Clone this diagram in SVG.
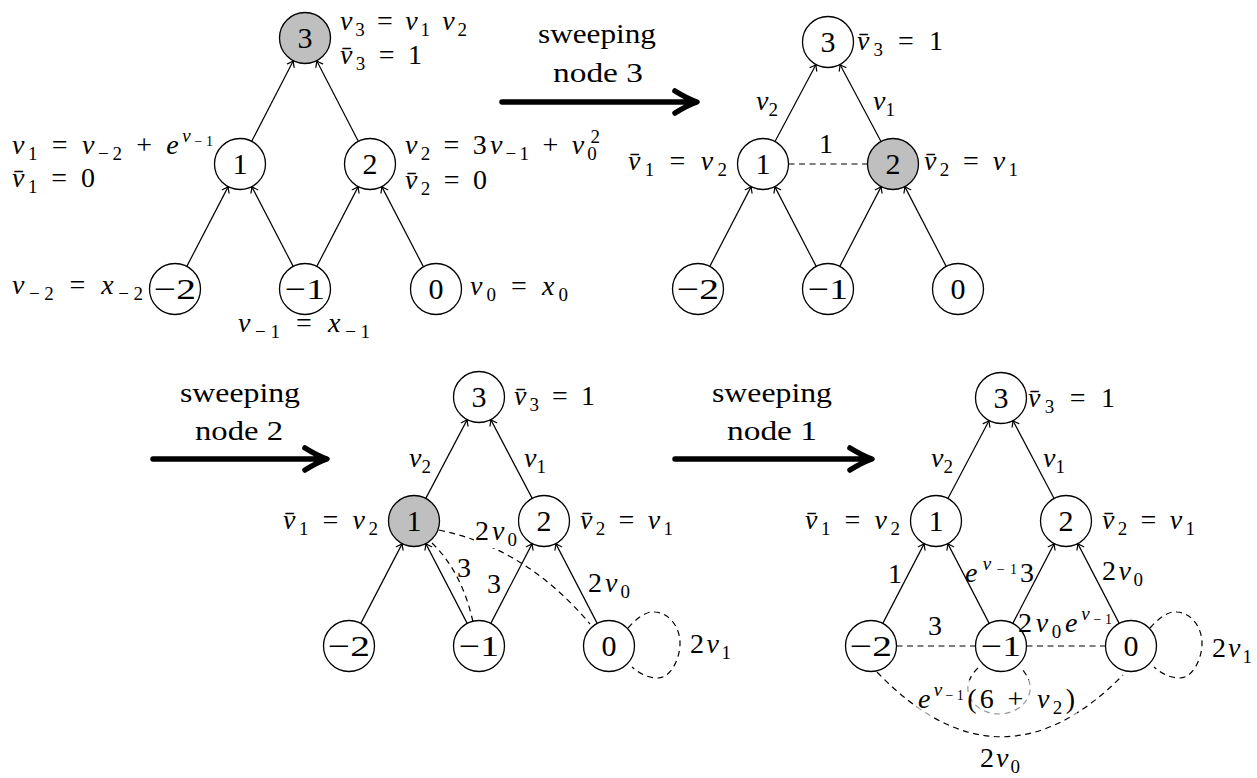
<svg xmlns="http://www.w3.org/2000/svg" width="1257" height="778" viewBox="0 0 1257 778" font-family="Liberation Serif, DejaVu Serif, serif">
<style>
text{font-family:"Liberation Serif","DejaVu Serif",serif}
.t{font-size:28px;fill:#000}
.i{font-style:italic}
.s{font-size:19px}
.ss{font-size:14px}
.n{font-size:30px;fill:#000;text-anchor:middle}
.c{fill:#fff;stroke:#000;stroke-width:1.3}
.g{fill:#bfbfbf;stroke:#000;stroke-width:1.3}
.e{stroke:#000;stroke-width:1.2;fill:none}
.d{stroke:#000;stroke-width:1.2;fill:none;stroke-dasharray:6 4.5}
.big{stroke:#000;stroke-width:5.5;fill:none;stroke-linecap:round;stroke-linejoin:round}
</style>
<defs>
<marker id="tip" viewBox="-7 -5 8 10" refX="0" refY="0" markerWidth="8" markerHeight="10" markerUnits="userSpaceOnUse" orient="auto">
<path d="M-5.5,-3.8 Q-2,-1 0,0 Q-2,1 -5.5,3.8" fill="none" stroke="#000" stroke-width="1.2" stroke-linecap="round"/>
</marker>
</defs>
<rect width="1257" height="778" fill="#fff"/>

<g id="connectors">
 <g id="edges-g1">
  <line class="e" x1="186.8" y1="266.4" x2="228.2" y2="186.6" marker-end="url(#tip)"/>
  <line class="e" x1="293.2" y1="266.4" x2="251.8" y2="186.6" marker-end="url(#tip)"/>
  <line class="e" x1="316.8" y1="266.4" x2="358.2" y2="186.6" marker-end="url(#tip)"/>
  <line class="e" x1="423.2" y1="266.4" x2="381.8" y2="186.6" marker-end="url(#tip)"/>
  <line class="e" x1="251.7" y1="141.3" x2="293.3" y2="60.7" marker-end="url(#tip)"/>
  <line class="e" x1="358.3" y1="141.3" x2="316.7" y2="60.7" marker-end="url(#tip)"/>
 </g>
 <g id="edges-g2">
  <line class="e" x1="709.8" y1="266.4" x2="751.2" y2="186.6" marker-end="url(#tip)"/>
  <line class="e" x1="816.2" y1="266.4" x2="774.8" y2="186.6" marker-end="url(#tip)"/>
  <line class="e" x1="839.8" y1="266.4" x2="881.2" y2="186.6" marker-end="url(#tip)"/>
  <line class="e" x1="946.2" y1="266.4" x2="904.8" y2="186.6" marker-end="url(#tip)"/>
  <line class="e" x1="775" y1="141.5" x2="816" y2="64.5" marker-end="url(#tip)"/>
  <line class="e" x1="881" y1="141.5" x2="840" y2="64.5" marker-end="url(#tip)"/>
  <line class="d" x1="788.5" y1="164" x2="867.5" y2="164"/>
 </g>
 <g id="edges-g3">
  <line class="e" x1="360.8" y1="623.4" x2="402.2" y2="543.6" marker-end="url(#tip)"/>
  <line class="e" x1="467.2" y1="623.4" x2="425.8" y2="543.6" marker-end="url(#tip)"/>
  <line class="e" x1="490.8" y1="623.4" x2="532.2" y2="543.6" marker-end="url(#tip)"/>
  <line class="e" x1="597.2" y1="623.4" x2="555.8" y2="543.6" marker-end="url(#tip)"/>
  <line class="e" x1="425.8" y1="498.4" x2="467.2" y2="419.6" marker-end="url(#tip)"/>
  <line class="e" x1="532.2" y1="498.4" x2="490.8" y2="419.6" marker-end="url(#tip)"/>
  <path class="d" d="M439,530 Q526,548 590,624"/>
  <path class="d" d="M432,543 Q462,572 473,622"/>
  <path class="d" d="M628,628 C640,614 650,611 655,612 C670,613 680,628 680,643 C680,660 670,678 658,678 C648,678 640,674 632,667"/>
 </g>
 <g id="edges-g4">
  <line class="e" x1="882.8" y1="623.4" x2="924.2" y2="543.6" marker-end="url(#tip)"/>
  <line class="e" x1="989.2" y1="623.4" x2="947.8" y2="543.6" marker-end="url(#tip)"/>
  <line class="e" x1="1012.8" y1="623.4" x2="1054.2" y2="543.6" marker-end="url(#tip)"/>
  <line class="e" x1="1119.2" y1="623.4" x2="1077.8" y2="543.6" marker-end="url(#tip)"/>
  <line class="e" x1="947.9" y1="498.5" x2="989.1" y2="420.5" marker-end="url(#tip)"/>
  <line class="e" x1="1054.1" y1="498.5" x2="1012.9" y2="420.5" marker-end="url(#tip)"/>
  <line class="d" x1="896.5" y1="646" x2="975.5" y2="646"/>
  <line class="d" x1="1026.5" y1="646" x2="1105.5" y2="646"/>
  <path class="d" d="M1150,628 C1162,614 1172,611 1177,612 C1192,613 1202,628 1202,643 C1202,660 1192,678 1180,678 C1170,678 1162,674 1154,667"/>
  <path class="d" d="M978,668 C955,690 975,714 999,714 C1023,714 1043,690 1020,667"/>
  <path class="d" d="M877,672 Q1000,800 1123,675"/>
 </g>
 <g id="sweep-arrows">
  <path class="big" d="M502,102 H694 M675,91 Q688,99 697,102 Q688,105 675,113"/>
  <path class="big" d="M153,459 H324 M305,448 Q318,456 327,459 Q318,462 305,470"/>
  <path class="big" d="M675,459 H869 M850,448 Q863,456 872,459 Q863,462 850,470"/>
 </g>
</g>

<g id="sweep-labels">
 <text class="t" x="597" y="43" text-anchor="middle" textLength="118" lengthAdjust="spacingAndGlyphs">sweeping</text>
 <text class="t" x="598" y="82" text-anchor="middle" textLength="90" lengthAdjust="spacingAndGlyphs">node 3</text>
 <text class="t" x="240" y="402" text-anchor="middle" textLength="120" lengthAdjust="spacingAndGlyphs">sweeping</text>
 <text class="t" x="239" y="440" text-anchor="middle" textLength="88" lengthAdjust="spacingAndGlyphs">node 2</text>
 <text class="t" x="772" y="402" text-anchor="middle" textLength="120" lengthAdjust="spacingAndGlyphs">sweeping</text>
 <text class="t" x="772" y="440" text-anchor="middle" textLength="90" lengthAdjust="spacingAndGlyphs">node 1</text>
</g>

<!-- Graph 1 -->
<g id="g1-n3"><circle class="g" cx="305" cy="38" r="25.5"/><text class="n" x="305" y="48">3</text></g>
<g id="g1-n1"><circle class="c" cx="240" cy="164" r="25.5"/><text class="n" x="240" y="174">1</text></g>
<g id="g1-n2"><circle class="c" cx="370" cy="164" r="25.5"/><text class="n" x="370" y="174">2</text></g>
<g id="g1-nm2"><circle class="c" cx="175" cy="289" r="25.5"/><text class="n" x="175" y="299" textLength="42" lengthAdjust="spacingAndGlyphs">−2</text></g>
<g id="g1-nm1"><circle class="c" cx="305" cy="289" r="25.5"/><text class="n" x="305" y="299" textLength="40" lengthAdjust="spacingAndGlyphs">−1</text></g>
<g id="g1-n0"><circle class="c" cx="436" cy="289" r="25.5"/><text class="n" x="436" y="299">0</text></g>
<g id="g1-labels">
 <text class="t" x="340" y="30" textLength="127" lengthAdjust="spacing"><tspan class="i">v</tspan><tspan class="s" dy="6">3</tspan><tspan dy="-6"> = </tspan><tspan class="i">v</tspan><tspan class="s" dy="6">1</tspan><tspan class="i" dy="-6"> v</tspan><tspan class="s" dy="6">2</tspan></text>
 <text class="t" x="340" y="64" textLength="82" lengthAdjust="spacing"><tspan class="i">v̄</tspan><tspan class="s" dy="6">3</tspan><tspan dy="-6"> = 1</tspan></text>
 <text class="t" x="12" y="154" textLength="201" lengthAdjust="spacing"><tspan class="i">v</tspan><tspan class="s" dy="6">1</tspan><tspan dy="-6"> = </tspan><tspan class="i">v</tspan><tspan class="s" dy="6">−2</tspan><tspan dy="-6"> + </tspan><tspan class="i">e</tspan><tspan class="i s" dy="-12">v</tspan><tspan class="ss" dy="4">−1</tspan></text>
 <text class="t" x="12" y="187" textLength="83" lengthAdjust="spacing"><tspan class="i">v̄</tspan><tspan class="s" dy="6">1</tspan><tspan dy="-6"> = 0</tspan></text>
 <text class="t" x="405" y="154" textLength="195" lengthAdjust="spacing"><tspan class="i">v</tspan><tspan class="s" dy="6">2</tspan><tspan dy="-6"> = 3</tspan><tspan class="i">v</tspan><tspan class="s" dy="6">−1</tspan><tspan dy="-6"> + </tspan><tspan class="i">v</tspan><tspan class="s" dy="6">0</tspan><tspan class="s" dx="-9.5" dy="-17">2</tspan></text>
 <text class="t" x="405" y="189" textLength="82" lengthAdjust="spacing"><tspan class="i">v̄</tspan><tspan class="s" dy="6">2</tspan><tspan dy="-6"> = 0</tspan></text>
 <text class="t" x="12" y="294" textLength="131" lengthAdjust="spacing"><tspan class="i">v</tspan><tspan class="s" dy="6">−2</tspan><tspan dy="-6"> = </tspan><tspan class="i">x</tspan><tspan class="s" dy="6">−2</tspan></text>
 <text class="t" x="238" y="332" textLength="132" lengthAdjust="spacing"><tspan class="i">v</tspan><tspan class="s" dy="6">−1</tspan><tspan dy="-6"> = </tspan><tspan class="i">x</tspan><tspan class="s" dy="6">−1</tspan></text>
 <text class="t" x="470" y="295" textLength="98" lengthAdjust="spacing"><tspan class="i">v</tspan><tspan class="s" dy="6">0</tspan><tspan dy="-6"> = </tspan><tspan class="i">x</tspan><tspan class="s" dy="6">0</tspan></text>
</g>

<!-- Graph 2 -->
<g id="g2-n3"><circle class="c" cx="828" cy="42" r="25.5"/><text class="n" x="828" y="52">3</text></g>
<g id="g2-n1"><circle class="c" cx="763" cy="164" r="25.5"/><text class="n" x="763" y="174">1</text></g>
<g id="g2-n2"><circle class="g" cx="893" cy="164" r="25.5"/><text class="n" x="893" y="174">2</text></g>
<g id="g2-nm2"><circle class="c" cx="698" cy="289" r="25.5"/><text class="n" x="698" y="299" textLength="42" lengthAdjust="spacingAndGlyphs">−2</text></g>
<g id="g2-nm1"><circle class="c" cx="828" cy="289" r="25.5"/><text class="n" x="828" y="299" textLength="40" lengthAdjust="spacingAndGlyphs">−1</text></g>
<g id="g2-n0"><circle class="c" cx="958" cy="289" r="25.5"/><text class="n" x="958" y="299">0</text></g>
<g id="g2-labels">
 <text class="t" x="857" y="50" textLength="86" lengthAdjust="spacing"><tspan class="i">v̄</tspan><tspan class="s" dy="6">3</tspan><tspan dy="-6"> = 1</tspan></text>
 <text class="t" x="756" y="110"><tspan class="i">v</tspan><tspan class="s" dy="6">2</tspan></text>
 <text class="t" x="873" y="110"><tspan class="i">v</tspan><tspan class="s" dy="6">1</tspan></text>
 <text class="t" x="819" y="153">1</text>
 <text class="t" x="628" y="170" textLength="99" lengthAdjust="spacing"><tspan class="i">v̄</tspan><tspan class="s" dy="6">1</tspan><tspan dy="-6"> = </tspan><tspan class="i">v</tspan><tspan class="s" dy="6">2</tspan></text>
 <text class="t" x="924" y="170" textLength="94" lengthAdjust="spacing"><tspan class="i">v̄</tspan><tspan class="s" dy="6">2</tspan><tspan dy="-6"> = </tspan><tspan class="i">v</tspan><tspan class="s" dy="6">1</tspan></text>
</g>

<!-- Graph 3 -->
<g id="g3-n3"><circle class="c" cx="479" cy="397" r="25.5"/><text class="n" x="479" y="407">3</text></g>
<g id="g3-n1"><circle class="g" cx="414" cy="521" r="25.5"/><text class="n" x="414" y="531">1</text></g>
<g id="g3-n2"><circle class="c" cx="544" cy="521" r="25.5"/><text class="n" x="544" y="531">2</text></g>
<g id="g3-nm2"><circle class="c" cx="349" cy="646" r="25.5"/><text class="n" x="349" y="656" textLength="42" lengthAdjust="spacingAndGlyphs">−2</text></g>
<g id="g3-nm1"><circle class="c" cx="479" cy="646" r="25.5"/><text class="n" x="479" y="656" textLength="40" lengthAdjust="spacingAndGlyphs">−1</text></g>
<g id="g3-n0"><circle class="c" cx="609" cy="646" r="25.5"/><text class="n" x="609" y="656">0</text></g>
<g id="g3-labels">
 <text class="t" x="514" y="405" textLength="81" lengthAdjust="spacing"><tspan class="i">v̄</tspan><tspan class="s" dy="6">3</tspan><tspan dy="-6"> = 1</tspan></text>
 <text class="t" x="409" y="467"><tspan class="i">v</tspan><tspan class="s" dy="6">2</tspan></text>
 <text class="t" x="524" y="467"><tspan class="i">v</tspan><tspan class="s" dy="6">1</tspan></text>
 <text class="t" x="283" y="529" textLength="95" lengthAdjust="spacing"><tspan class="i">v̄</tspan><tspan class="s" dy="6">1</tspan><tspan dy="-6"> = </tspan><tspan class="i">v</tspan><tspan class="s" dy="6">2</tspan></text>
 <text class="t" x="580" y="529" textLength="93" lengthAdjust="spacing"><tspan class="i">v̄</tspan><tspan class="s" dy="6">2</tspan><tspan dy="-6"> = </tspan><tspan class="i">v</tspan><tspan class="s" dy="6">1</tspan></text>
 <rect x="474" y="518" width="44" height="30" fill="#fff"/>
 <text class="t" x="475" y="540" textLength="42" lengthAdjust="spacing">2<tspan class="i">v</tspan><tspan class="s" dy="6">0</tspan></text>
 <text class="t" x="457" y="577">3</text>
 <text class="t" x="487" y="593">3</text>
 <text class="t" x="588" y="592" textLength="42" lengthAdjust="spacing">2<tspan class="i">v</tspan><tspan class="s" dy="6">0</tspan></text>
 <text class="t" x="690" y="653" textLength="41" lengthAdjust="spacing">2<tspan class="i">v</tspan><tspan class="s" dy="6">1</tspan></text>
</g>

<!-- Graph 4 -->
<g id="g4-n3"><circle class="c" cx="1001" cy="398" r="25.5"/><text class="n" x="1001" y="408">3</text></g>
<g id="g4-n1"><circle class="c" cx="936" cy="521" r="25.5"/><text class="n" x="936" y="531">1</text></g>
<g id="g4-n2"><circle class="c" cx="1066" cy="521" r="25.5"/><text class="n" x="1066" y="531">2</text></g>
<g id="g4-nm2"><circle class="c" cx="871" cy="646" r="25.5"/><text class="n" x="871" y="656" textLength="42" lengthAdjust="spacingAndGlyphs">−2</text></g>
<g id="g4-nm1"><circle class="c" cx="1001" cy="646" r="25.5"/><text class="n" x="1001" y="656" textLength="40" lengthAdjust="spacingAndGlyphs">−1</text></g>
<g id="g4-n0"><circle class="c" cx="1131" cy="646" r="25.5"/><text class="n" x="1131" y="656">0</text></g>
<g id="g4-labels">
 <text class="t" x="1028" y="407" textLength="87" lengthAdjust="spacing"><tspan class="i">v̄</tspan><tspan class="s" dy="6">3</tspan><tspan dy="-6"> = 1</tspan></text>
 <text class="t" x="931" y="467"><tspan class="i">v</tspan><tspan class="s" dy="6">2</tspan></text>
 <text class="t" x="1043" y="467"><tspan class="i">v</tspan><tspan class="s" dy="6">1</tspan></text>
 <text class="t" x="805" y="529" textLength="95" lengthAdjust="spacing"><tspan class="i">v̄</tspan><tspan class="s" dy="6">1</tspan><tspan dy="-6"> = </tspan><tspan class="i">v</tspan><tspan class="s" dy="6">2</tspan></text>
 <text class="t" x="1102" y="529" textLength="93" lengthAdjust="spacing"><tspan class="i">v̄</tspan><tspan class="s" dy="6">2</tspan><tspan dy="-6"> = </tspan><tspan class="i">v</tspan><tspan class="s" dy="6">1</tspan></text>
 <text class="t" x="888" y="583">1</text>
 <text class="t" x="965" y="582" textLength="52" lengthAdjust="spacing"><tspan class="i">e</tspan><tspan class="i s" dy="-12">v</tspan><tspan class="ss" dy="4">−1</tspan></text>
 <text class="t" x="1020" y="582">3</text>
 <text class="t" x="1102" y="580" textLength="41" lengthAdjust="spacing">2<tspan class="i">v</tspan><tspan class="s" dy="6">0</tspan></text>
 <text class="t" x="928" y="635">3</text>
 <text class="t" x="1018" y="632" textLength="94" lengthAdjust="spacing">2<tspan class="i">v</tspan><tspan class="s" dy="6">0</tspan><tspan class="i" dy="-6">e</tspan><tspan class="i s" dy="-12">v</tspan><tspan class="ss" dy="4">−1</tspan></text>
 <text class="t" x="1212" y="657" textLength="40" lengthAdjust="spacing">2<tspan class="i">v</tspan><tspan class="s" dy="6">1</tspan></text>
 <rect x="917" y="680" width="160" height="36" fill="#fff" fill-opacity="0.6"/>
 <text class="t" x="918" y="708" textLength="157" lengthAdjust="spacing"><tspan class="i">e</tspan><tspan class="i s" dy="-12">v</tspan><tspan class="ss" dy="4">−1</tspan><tspan dy="8">(6 + </tspan><tspan class="i">v</tspan><tspan class="s" dy="6">2</tspan><tspan dy="-6">)</tspan></text>
 <text class="t" x="980" y="767" textLength="40" lengthAdjust="spacing">2<tspan class="i">v</tspan><tspan class="s" dy="6">0</tspan></text>
</g>
</svg>
